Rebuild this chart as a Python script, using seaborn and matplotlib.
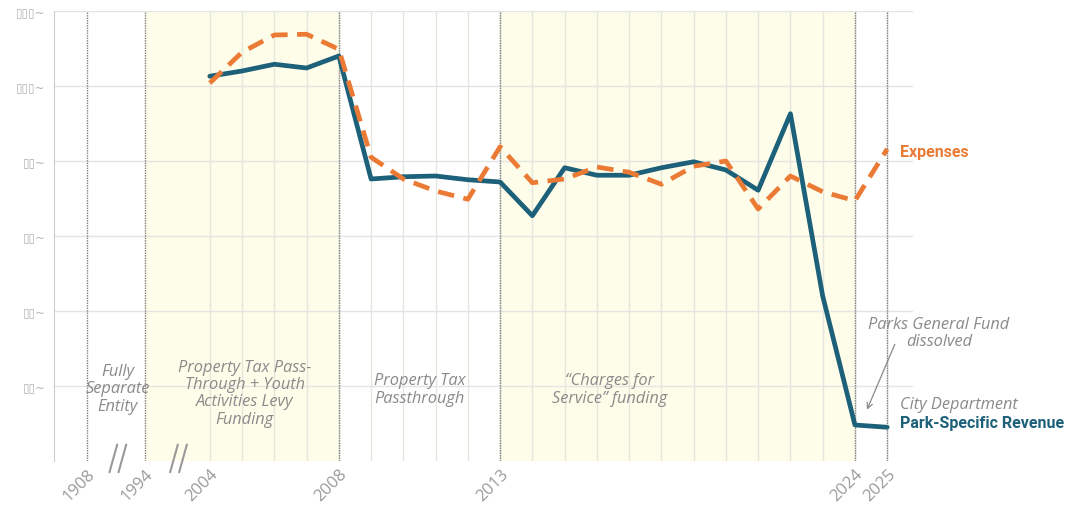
import pandas as pd
import matplotlib.pyplot as plt
import seaborn as sns

# positions on the x axis (broken axis: 1908 and 1994 squeezed in before 2004)
years = list(range(2004, 2026))
revenue = [5.13, 5.20, 5.29, 5.24, 5.40, 3.76, 3.79, 3.80, 3.75, 3.72, 3.27,
           3.91, 3.81, 3.81, 3.91, 3.99, 3.88, 3.61, 4.63, 2.20, 0.48, 0.45]
expenses = [5.04, 5.45, 5.68, 5.69, 5.49, 4.05, 3.76, 3.60, 3.49, 4.19, 3.71,
            3.76, 3.92, 3.85, 3.69, 3.93, 4.00, 3.36, 3.80, 3.59, 3.47, 4.16]
tick_years = [1908, 1994, 2004, 2008, 2013, 2024, 2025]
tick_pos = [-3.8, -2.0, 0, 4, 9, 20, 21]
y_ticks = [1, 2, 3, 4, 5, 6]
y_labels = ['▯▯~', '▯▯~', '▯▯~', '▯▯~', '▯▯▯~', '▯▯▯~']

df = pd.DataFrame({
    'pos': [y - 2004 for y in years] * 2,
    'value': revenue + expenses,
    'series': ['Revenue'] * len(years) + ['Expenses'] * len(years),
})

sns.set_style('white')
plt.rcParams['font.family'] = ['Open Sans', 'DejaVu Sans']

teal = '#1c6079'
orange = '#eb7a35'
grey = '#8a8a8a'

fig = plt.figure(figsize=(10.65, 5.1), dpi=100)
ax = fig.add_axes([54 / 1065, 1 - 462 / 510, (913 - 54) / 1065, 450 / 510])

# shaded eras
ax.axvspan(-2, 4, color='#fdfdea', zorder=0)
ax.axvspan(9, 20, color='#fdfdea', zorder=0)

# grid
for p in range(0, 22):
    ax.axvline(p, color='#e6e6de', lw=1, zorder=1)
for y in y_ticks:
    ax.axhline(y, color='#e4e4e4', lw=1, zorder=1)
for p in [-3.8, -2, 4, 9, 20, 21]:
    ax.axvline(p, color='#808080', lw=1, ls=(0, (1, 0.8)), zorder=2)

sns.lineplot(data=df, x='pos', y='value', hue='series', style='series',
             hue_order=['Revenue', 'Expenses'],
             palette={'Revenue': teal, 'Expenses': orange},
             dashes={'Revenue': '', 'Expenses': (3.5, 2)},
             linewidth=3.4, legend=False, ax=ax, zorder=3)

ax.set_xlim(-4.83, 21.8)
ax.set_ylim(0, 6)
ax.set_xticks(tick_pos)
ax.set_xticklabels([str(t) for t in tick_years], rotation=45, ha='right',
                   rotation_mode='anchor', color='#9a9a9a', fontsize=12)
ax.set_yticks(y_ticks)
ax.set_yticklabels(y_labels, color='#b0b0b0', fontsize=8.5,
                   family=['DejaVu Sans'])
ax.tick_params(axis='both', length=0, pad=6)
ax.tick_params(axis='x', pad=3)
ax.set_xlabel('')
ax.set_ylabel('')
for s in ['top', 'right', 'bottom']:
    ax.spines[s].set_visible(False)
ax.spines['left'].set_color('#cccccc')

# axis break marks
for cx in [-2.85, -0.97]:
    for dx in [-0.14, 0.14]:
        ax.plot([cx + dx - 0.12, cx + dx + 0.12], [-0.15, 0.22], color='#999999',
                lw=1.5, clip_on=False, zorder=4)

ital = dict(style='italic', color=grey, fontsize=11.8, ha='center', va='center',
            linespacing=1.12)
ax.text(-2.85, 0.97, 'Fully\nSeparate\nEntity', **ital)
ax.text(1.08, 0.91, 'Property Tax Pass-\nThrough + Youth\nActivities Levy\nFunding', **ital)
ax.text(6.5, 0.96, 'Property Tax\nPassthrough', **ital)
ax.text(12.38, 0.96, '“Charges for\nService” funding', **ital)
ax.text(22.6, 1.71, 'Parks General Fund\ndissolved', clip_on=False, **ital)
ax.annotate('', xy=(20.34, 0.65), xytext=(21.27, 1.59),
            arrowprops=dict(arrowstyle='->', color=grey, lw=0.9))
ax.text(21.4, 0.76, 'City Department', style='italic', color=grey, fontsize=11.8,
        ha='left', va='center')
ax.text(21.4, 0.51, 'Park-Specific Revenue', color=teal, fontsize=11.5,
        fontweight='bold', ha='left', va='center', family=['Roboto', 'DejaVu Sans'])
ax.text(21.4, 4.12, 'Expenses', color=orange, fontsize=11.5,
        fontweight='bold', ha='left', va='center', family=['Roboto', 'DejaVu Sans'])

fig.savefig('out.png', dpi=100)
